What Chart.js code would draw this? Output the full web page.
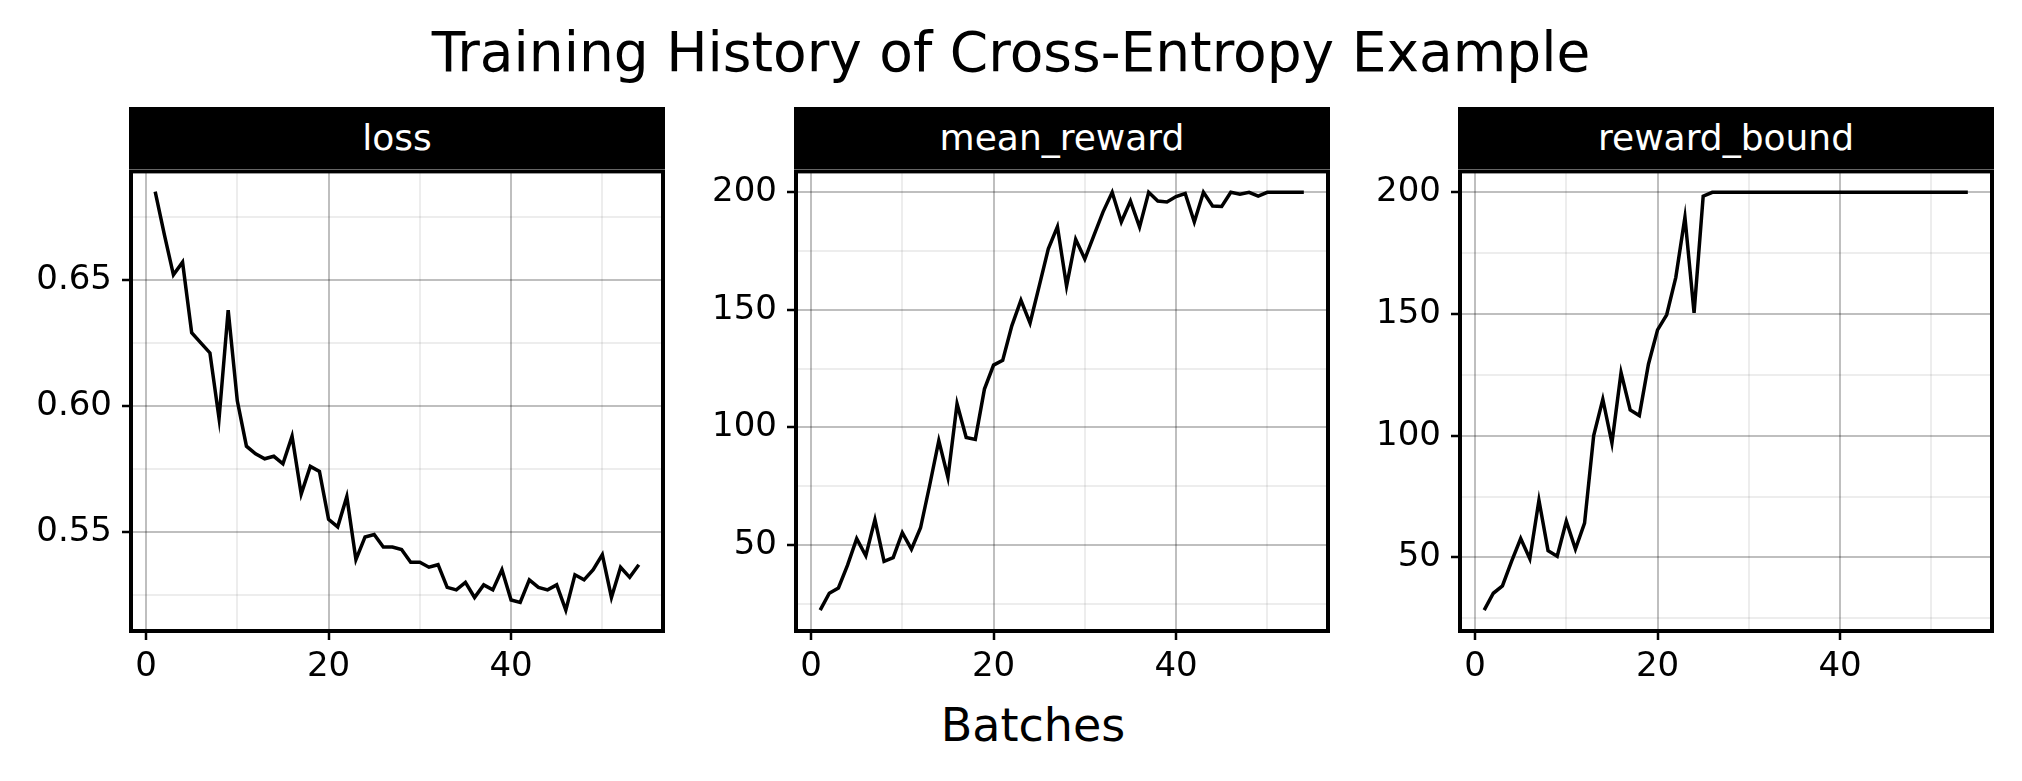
<!DOCTYPE html>
<html><head><meta charset="utf-8">
<script src="https://cdn.jsdelivr.net/npm/chart.js@4/dist/chart.umd.min.js"></script>
<style>
body{margin:0;background:#fff;width:2022px;height:781px;position:relative;overflow:hidden;font-family:"DejaVu Sans",sans-serif}
.t{position:absolute;left:0;width:2022px;text-align:center;color:#000}
.strip{position:absolute;background:#000;color:#fff;text-align:center;font-size:36px;box-sizing:border-box}
.box{position:absolute}
</style></head><body>
<div class="t" style="top:20px;font-size:55px">Training History of Cross-Entropy Example</div>
<div class="t" style="top:698px;font-size:46px;left:22px">Batches</div>
<script>
const batches = Array.from({length:54},(_, i)=>i+1);
const loss = [0.685,0.668,0.652,0.657,0.629,0.625,0.621,0.595,0.638,0.602,0.584,0.581,0.579,0.580,0.577,0.588,0.565,0.576,0.574,0.555,0.552,0.564,0.539,0.548,0.549,0.544,0.544,0.543,0.538,0.538,0.536,0.537,0.528,0.527,0.530,0.524,0.529,0.527,0.535,0.523,0.522,0.531,0.528,0.527,0.529,0.519,0.533,0.531,0.535,0.541,0.524,0.536,0.532,0.537];
const meanReward = [22.3,29.5,31.7,41.4,52.7,45.4,60.8,43.0,44.6,55.2,48.2,57.3,75.4,94.4,78.7,110,95.7,94.9,116.3,126.5,128.5,143.2,154.1,144.4,160.1,176,185.4,160.1,180,171.6,181.7,191.7,200,187.4,196.3,185.2,200,196.3,195.9,198.2,199.5,187.4,200,194.2,194,200,199.2,200,198.4,200,200,200,200,200];
const rewardBound = [28.4,35.3,38.3,48.4,57.8,49.5,73.5,52.8,50.5,64.9,53.5,64.1,100.1,115,97,126,110.6,108.3,129.4,143.5,149.7,165.1,189.8,150.5,198.4,200,200,200,200,200,200,200,200,200,200,200,200,200,200,200,200,200,200,200,200,200,200,200,200,200,200,200,200,200];
const xMajor=[0,20,40], xMinor=[10,30,50];
const panels=[
 {name:'loss',data:loss,left:131,ymin:0.5107,ymax:0.693,major:[0.55,0.60,0.65],minor:[0.525,0.575,0.625,0.675],fmt:v=>v.toFixed(2)},
 {name:'mean_reward',data:meanReward,left:796,ymin:13.4,ymax:208.9,major:[50,100,150,200],minor:[25,75,125,175],fmt:v=>String(v)},
 {name:'reward_bound',data:rewardBound,left:1460,ymin:19.8,ymax:208.6,major:[50,100,150,200],minor:[25,75,125,175],fmt:v=>String(v)}
];
const W=532, TOP=169, BOT=631, STRIP_TOP=107, D=28;
const frame={id:'frame',afterDraw(c){const a=c.chartArea,x=c.ctx;x.save();x.strokeStyle='#000';x.lineWidth=4;x.strokeRect(a.left,a.top,a.right-a.left,a.bottom-a.top);x.restore();}};
panels.forEach(p=>{
  const s=document.createElement('div');s.className='strip';
  s.style.cssText=`left:${p.left-2}px;top:${STRIP_TOP}px;width:${W+4}px;height:${TOP-STRIP_TOP}px;line-height:${TOP-STRIP_TOP}px`;
  s.textContent=p.name;document.body.appendChild(s);
  const b=document.createElement('div');b.className='box';
  const YW=110, XH=70;
  b.style.cssText=`left:${p.left-YW}px;top:${TOP-D}px;width:${W+YW+12}px;height:${BOT-TOP+D+XH}px`;
  const cv=document.createElement('canvas');b.appendChild(cv);document.body.appendChild(b);
  const isMaj=(arr,v)=>arr.some(m=>Math.abs(m-v)<1e-9);
  new Chart(cv,{type:'line',
    data:{labels:batches,datasets:[{data:p.data.map((v,i)=>({x:batches[i],y:v})),borderColor:'#000',borderWidth:3.5,pointRadius:0,tension:0,fill:false}]},
    options:{responsive:true,maintainAspectRatio:false,animation:false,
      layout:{padding:{right:12,top:0,left:0,bottom:0}},
      plugins:{legend:{display:false},tooltip:{enabled:false}},
      scales:{
        x:{type:'linear',min:-1.65,max:56.65,
          afterBuildTicks:ax=>{ax.ticks=[...xMajor,...xMinor].sort((a,b)=>a-b).map(v=>({value:v}));},
          afterFit:ax=>{ax.height=XH;},
          ticks:{autoSkip:false,maxRotation:0,color:'#000',font:{family:'DejaVu Sans',size:34},padding:7,callback:v=>isMaj(xMajor,v)?String(v):''},
          grid:{color:c=>isMaj(xMajor,c.tick.value)?'rgba(0,0,0,0.25)':'rgba(0,0,0,0.07)',lineWidth:2,tickLength:9,tickColor:c=>isMaj(xMajor,c.tick.value)?'#000':'rgba(0,0,0,0)',tickWidth:2.5},
          border:{display:false}},
        y:{min:p.ymin,max:p.ymax,
          afterBuildTicks:ax=>{ax.ticks=[...p.major,...p.minor].sort((a,b)=>a-b).map(v=>({value:v}));},
          afterFit:ax=>{ax.width=YW;},
          ticks:{autoSkip:false,color:'#000',font:{family:'DejaVu Sans',size:34},padding:10,callback:v=>isMaj(p.major,v)?p.fmt(v):''},
          grid:{color:c=>isMaj(p.major,c.tick.value)?'rgba(0,0,0,0.25)':'rgba(0,0,0,0.07)',lineWidth:2,tickLength:9,tickColor:c=>isMaj(p.major,c.tick.value)?'#000':'rgba(0,0,0,0)',tickWidth:2.5},
          border:{display:false}}
      }},
    plugins:[frame]});
});
</script></body></html>
